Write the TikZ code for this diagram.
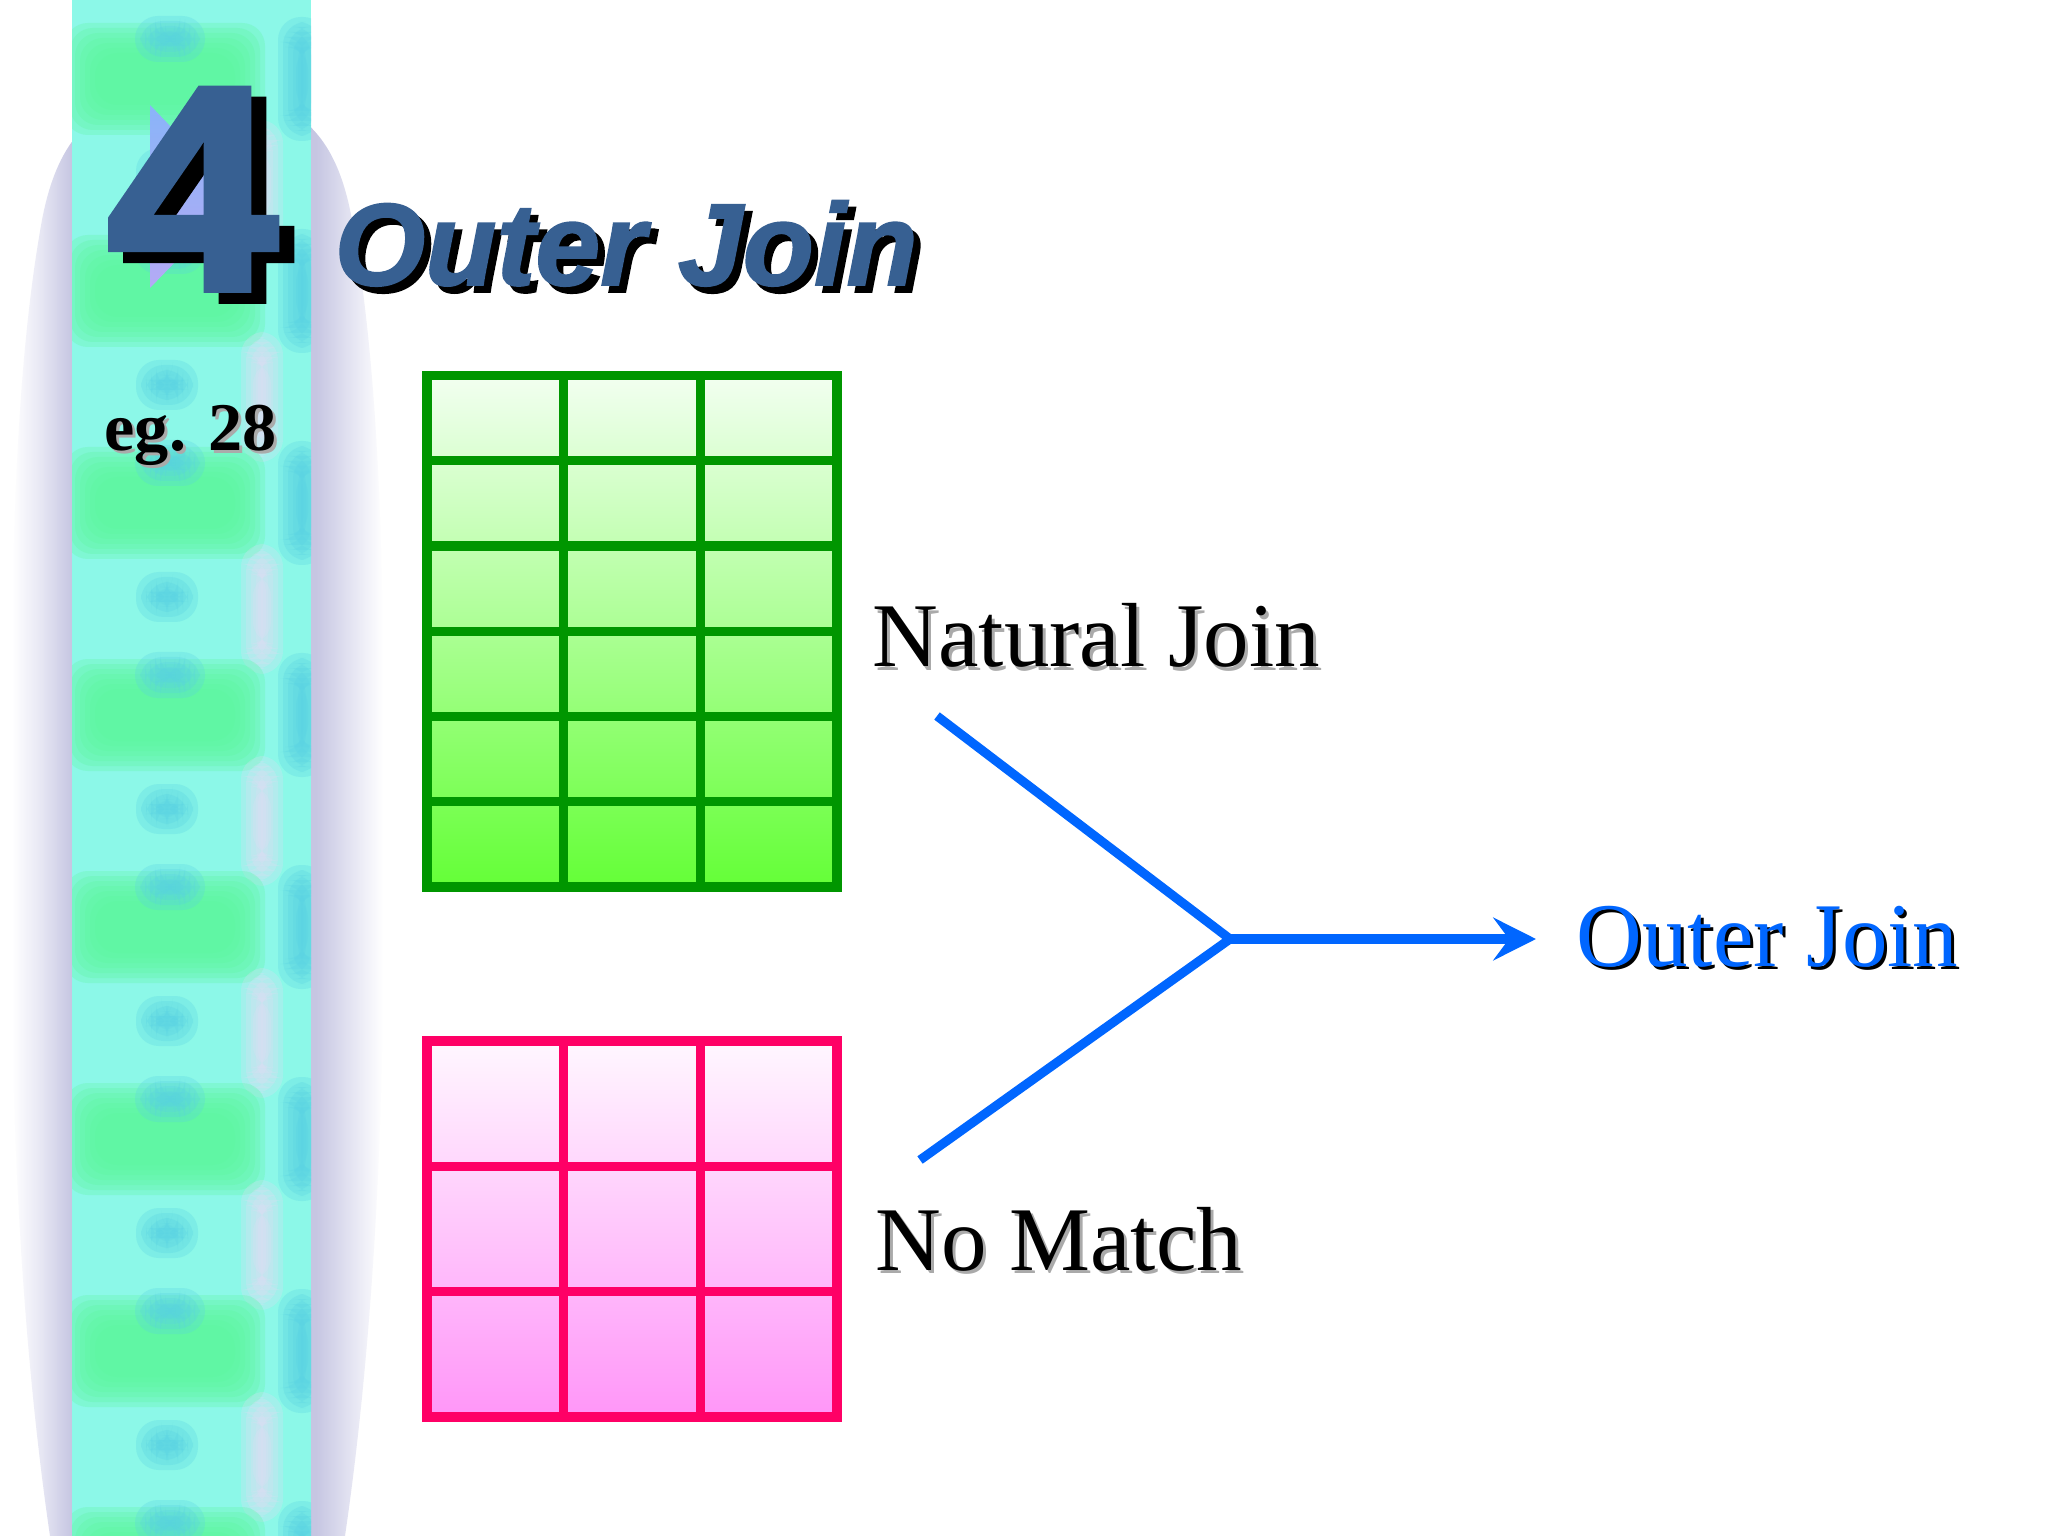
\documentclass[tikz,border=0pt]{standalone}
\usepackage{fontspec}
\setmainfont{Liberation Serif}
\newfontfamily\titlefont{Liberation Sans}[BoldItalicFeatures={FakeBold=1.6},BoldFeatures={FakeBold=2.6}]
\usetikzlibrary{arrows.meta}
\definecolor{titleblue}{RGB}{55,96,146}
\definecolor{joinblue}{RGB}{0,102,255}
\definecolor{gline}{RGB}{0,150,0}
\definecolor{gtop}{RGB}{242,255,240}
\definecolor{gbot}{RGB}{100,255,55}
\definecolor{pline}{RGB}{255,0,102}
\definecolor{ptop}{RGB}{255,247,255}
\definecolor{pbot}{RGB}{255,150,248}
\definecolor{stripcyan}{RGB}{140,248,232}
\definecolor{stripgreen}{RGB}{92,246,158}
\definecolor{stripteal}{RGB}{88,210,226}
\definecolor{striplav}{RGB}{222,222,244}
\definecolor{lavA}{RGB}{198,198,226}
\definecolor{lavB}{RGB}{230,230,243}
\definecolor{trib}{RGB}{138,180,248}
\definecolor{tril}{RGB}{180,170,245}
\definecolor{shadowgray}{RGB}{170,170,170}
\pgfdeclarehorizontalshading{lavshade}{100bp}{color(0bp)=(white); color(25bp)=(white); color(29bp)=(lavB); color(33bp)=(lavA); color(66bp)=(lavA); color(71bp)=(lavB); color(75bp)=(white); color(100bp)=(white)}
\newcommand\softbox[5]{%
  \foreach \k in {0,...,6}{%
    \fill[#1, fill opacity=0.27, rounded corners=8pt]
      ({#2-#4/2+\k*5},{#3-#5/2+\k*5}) rectangle ({#2+#4/2-\k*5},{#3+#5/2-\k*5});}}
\begin{document}
\begin{tikzpicture}[x=0.3515625pt,y=-0.3515625pt,
  bodytext/.style={inner sep=0pt, anchor=base west, font=\fontsize{32}{38}\selectfont},
  bigfour/.style={inner sep=0pt, anchor=base west, xscale=1.05, font=\titlefont\bfseries\fontsize{102}{102}\selectfont},
  titletext/.style={inner sep=0pt, anchor=base west, font=\titlefont\bfseries\itshape\fontsize{41}{48}\selectfont},
  egtext/.style={inner sep=0pt, anchor=base west, font=\bfseries\fontsize{24}{28}\selectfont},
  joinline/.style={draw=joinblue, line width=3.2pt, line join=miter},
  gridg/.style={draw=gline, line width=3.2pt},
  gridp/.style={draw=pline, line width=3.2pt}]
\useasboundingbox (0,0) rectangle (2048,1536);
\fill[white] (0,0) rectangle (2048,1536);
% lavender halo behind the strip
\shade[shading=lavshade] (198,92) .. controls (290,92) and (335,125) .. (352,220)
  .. controls (372,330) and (383,480) .. (383,700) -- (383,950)
  .. controls (383,1200) and (365,1400) .. (345,1536) -- (50,1536)
  .. controls (30,1400) and (12,1200) .. (12,950) -- (12,700)
  .. controls (12,480) and (22,330) .. (42,220)
  .. controls (60,125) and (106,92) .. (198,92) -- cycle;
% textured strip
\fill[stripcyan] (72,0) rectangle (311,1536);
\begin{scope}
\clip (72,0) rectangle (311,1536);
\foreach \c in {79,291,503,715,927,1139,1351,1563}{
  \softbox{stripgreen}{165}{\c}{200}{112}
  \softbox{stripteal}{170}{\c-40}{70}{46}
  \softbox{stripteal}{167}{\c+94}{62}{50}
  \softbox{stripteal}{302}{\c}{48}{124}
  \softbox{striplav}{262}{\c+106}{42}{130}
}
\end{scope}
% decorative triangle behind the 4
\shade[top color=trib, bottom color=tril] (150,105) -- (238,197) -- (150,288) -- cycle;
% big 4 with shadow
\node[bigfour, text=black] (fourS) at (122,300) {4};
\node[bigfour, text=titleblue] (four) at (107,289) {4};
% title
\node[titletext, text=black] (titleS) at (341,292) {Outer Join};
\node[titletext, text=titleblue] (title) at (334,285) {Outer Join};
% eg. 28
\node[egtext, text=shadowgray] (egS) at (107,454) {eg. 28};
\node[egtext, text=black] (eg) at (104,451) {eg. 28};
% green table
\shade[top color=gtop, bottom color=gbot] (427,375.5) rectangle (837,887);
\foreach \i in {1,2}{\draw[gridg] ({427+\i*136.667},375.5) -- ({427+\i*136.667},887);}
\foreach \j in {1,...,5}{\draw[gridg] (427,{375.5+\j*85.25}) -- (837,{375.5+\j*85.25});}
\draw[gridg] (427,375.5) rectangle (837,887);
% pink table
\shade[top color=ptop, bottom color=pbot] (427,1041) rectangle (837,1417);
\foreach \i in {1,2}{\draw[gridp] ({427+\i*136.667},1041) -- ({427+\i*136.667},1417);}
\foreach \j in {1,2}{\draw[gridp] (427,{1041+\j*125.33}) -- (837,{1041+\j*125.33});}
\draw[gridp] (427,1041) rectangle (837,1417);
% labels
\node[bodytext, text=shadowgray] (natS) at (875,670) {Natural Join};
\node[bodytext, text=black] (nat) at (872,667) {Natural Join};
\node[bodytext, text=shadowgray] (nmS) at (878,1273) {No Match};
\node[bodytext, text=black] (nm) at (875,1270) {No Match};
\node[bodytext, text=black] (outS) at (1579,969) {Outer Join};
\node[bodytext, text=joinblue] (out) at (1576,966) {Outer Join};
% connectors
\coordinate (natEnd) at (937,716);
\coordinate (nmEnd) at (920,1160);
\coordinate (jn) at (1230,939);
\coordinate (tip) at (1536,939);
\draw[joinline] (natEnd) -- (jn) -- (nmEnd);
\draw[joinline, -{Stealth[length=15pt, width=15pt, inset=5.5pt]}] (jn) -- (tip);
\end{tikzpicture}
\end{document}
